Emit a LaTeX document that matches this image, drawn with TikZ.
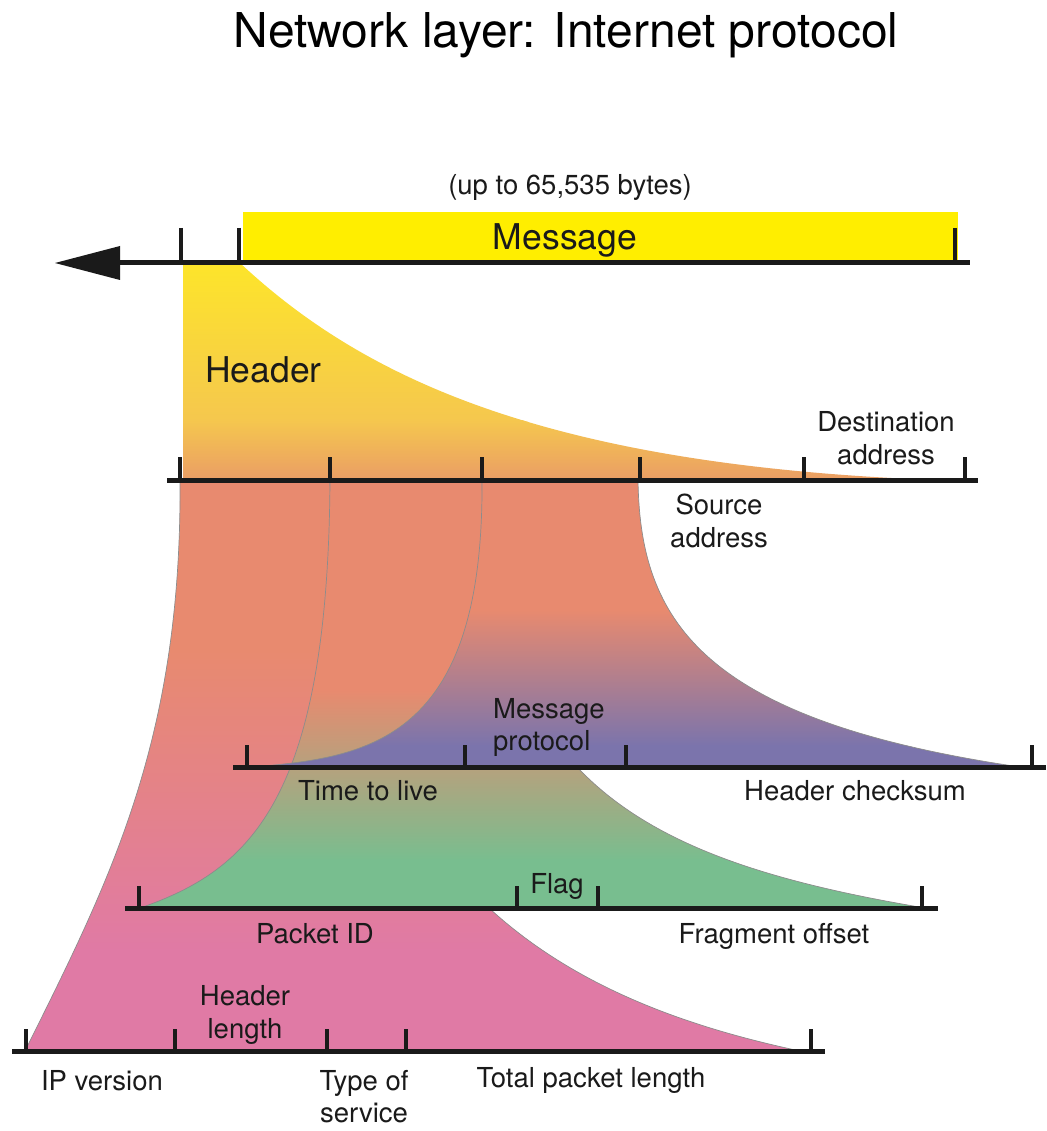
\documentclass[tikz,border=0pt]{standalone}
\usepackage{fontspec}
\setmainfont{TeX Gyre Heros}
\begin{document}
\definecolor{ink}{HTML}{1A1A1A}
\definecolor{msgyellow}{HTML}{FFEE00}
\definecolor{hdrTop}{HTML}{FDE52A}
\definecolor{hdrMid}{HTML}{F5C74E}
\definecolor{hdrBot}{HTML}{EA9C66}
\definecolor{salmon}{HTML}{E88A6F}
\definecolor{purp}{HTML}{7B74AC}
\definecolor{grn}{HTML}{78BE8F}
\definecolor{pnk}{HTML}{E07AA5}
\begin{tikzpicture}[x=1pt,y=-1pt,
  rule/.style={draw=ink, line width=5pt},
  tickmark/.style={draw=ink, line width=4.5pt},
  fanedge/.style={draw=black!45, line width=0.7pt},
  lbl/.style={font=\fontsize{27.5}{33}\selectfont, inner sep=0pt, text=ink},
  biglbl/.style={font=\fontsize{35.5}{40}\selectfont, inner sep=0pt, text=ink}]
\useasboundingbox (0,0) rectangle (1046,1131);
\fill[white] (0,0) rectangle (1046,1131);

% title
\node[inner sep=0pt, anchor=base, font=\fontsize{48}{53}\selectfont] (title) at (566,48) {Network layer: Internet protocol};

% ---- fan of word 1 (version / length / TOS / total length), pink ----
\begin{scope}
  \clip (180,480) .. controls (182,740) and (110,880) .. (25,1051)
        -- (800,1051) .. controls (560,1000) and (335,880) .. (330,480) -- cycle;
  \fill[salmon] (0,470) rectangle (1046,651);
  \shade[top color=salmon, bottom color=pnk] (0,650) rectangle (1046,951);
  \fill[pnk] (0,950) rectangle (1046,1060);
\end{scope}
\draw[fanedge] (180,480) .. controls (182,740) and (110,880) .. (25,1051);
\draw[fanedge] (800,1051) .. controls (560,1000) and (335,880) .. (330,480);

% ---- fan of word 2 (ID / flag / fragment offset), green ----
\begin{scope}
  \clip (330,480) .. controls (328,800) and (250,870) .. (140,908)
        -- (925,908) .. controls (640,860) and (490,780) .. (482,480) -- cycle;
  \fill[salmon] (0,470) rectangle (1046,691);
  \shade[top color=salmon, bottom color=grn] (0,690) rectangle (1046,861);
  \fill[grn] (0,860) rectangle (1046,915);
\end{scope}
\draw[fanedge] (330,480) .. controls (328,800) and (250,870) .. (140,908);
\draw[fanedge] (925,908) .. controls (640,860) and (490,780) .. (482,480);

% ---- fan of word 3 (TTL / protocol / checksum), purple ----
\begin{scope}
  \clip (482,480) .. controls (484,740) and (370,758) .. (250,767)
        -- (1020,767) .. controls (700,720) and (640,620) .. (638,480) -- cycle;
  \fill[salmon] (0,470) rectangle (1046,611);
  \shade[top color=salmon, bottom color=purp] (0,610) rectangle (1046,746);
  \fill[purp] (0,745) rectangle (1046,775);
\end{scope}
\draw[fanedge] (482,480) .. controls (484,740) and (370,758) .. (250,767);
\draw[fanedge] (1020,767) .. controls (700,720) and (640,620) .. (638,480);

% ---- header block ----
\begin{scope}
  \clip (183,263) -- (240,263) .. controls (360,375) and (540,465) .. (935,480)
        -- (183,480) -- cycle;
  \shade[top color=hdrTop, bottom color=hdrMid] (0,262) rectangle (1046,421);
  \shade[top color=hdrMid, bottom color=hdrBot] (0,420) rectangle (1046,482);
\end{scope}

% ---- message bar ----
\fill[msgyellow] (243,212) rectangle (958,261);

% ---- rulers ----
\fill[ink] (55,263) -- (120,246) -- (120,280) -- cycle;
\draw[rule] (118,263) -- (970,263);
\foreach \x in {181,239,955} \draw[tickmark] (\x,228) -- (\x,263);

\draw[rule] (167,480) -- (978,480);
\foreach \x in {180,330,482,640,804,965} \draw[tickmark] (\x,457) -- (\x,480);

\draw[rule] (233,767) -- (1046,767);
\foreach \x in {247,465,626,1032} \draw[tickmark] (\x,745) -- (\x,767);

\draw[rule] (125,908) -- (938,908);
\foreach \x in {139,517,598,922} \draw[tickmark] (\x,886) -- (\x,908);

\draw[rule] (12,1051) -- (825,1051);
\foreach \x in {26,175,327,406,811} \draw[tickmark] (\x,1029) -- (\x,1051);

% ---- labels ----
\node[lbl, anchor=base] (upto) at (570,195) {(up to 65,535 bytes)};
\node[biglbl, anchor=base] (msg) at (565,250) {Message};
\node[biglbl, anchor=base west] (hdr) at (205,382) {Header};

\node[lbl, anchor=base] (dst1) at (886,431) {Destination};
\node[lbl, anchor=base] (dst2) at (886,464) {address};
\node[lbl, anchor=base] (src1) at (719,514) {Source};
\node[lbl, anchor=base] (src2) at (719,547) {address};

\node[lbl, anchor=base west] (prot1) at (493,718) {Message};
\node[lbl, anchor=base west] (prot2) at (493,750) {protocol};
\node[lbl, anchor=base] (ttl) at (368,800) {Time to live};
\node[lbl, anchor=base] (chk) at (855,800) {Header checksum};

\node[lbl, anchor=base] (flag) at (557,893) {Flag};
\node[lbl, anchor=base] (pid) at (315,943) {Packet ID};
\node[lbl, anchor=base] (frag) at (774,943) {Fragment offset};

\node[lbl, anchor=base] (hl1) at (245,1005) {Header};
\node[lbl, anchor=base] (hl2) at (245,1038) {length};
\node[lbl, anchor=base] (ipv) at (102,1090) {IP version};
\node[lbl, anchor=base] (tos1) at (364,1090) {Type of};
\node[lbl, anchor=base] (tos2) at (364,1122) {service};
\node[lbl, anchor=base] (tot) at (591,1087) {Total packet length};
\end{tikzpicture}
\end{document}
